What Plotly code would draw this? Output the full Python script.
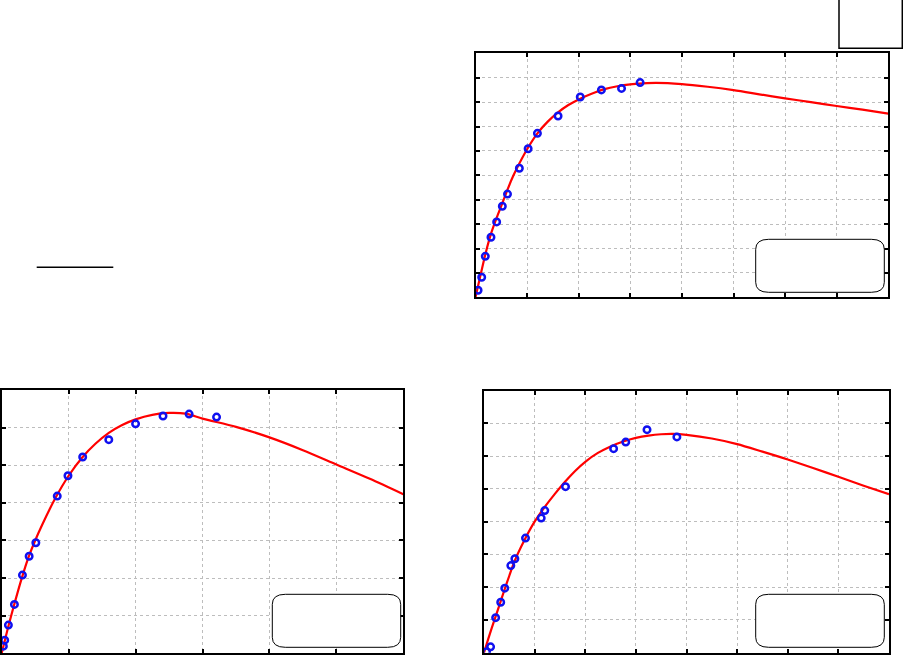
import plotly.graph_objects as go

W, H = 903, 655

# ---------------- data ----------------
# Panel A (top right)
a_pts_x = [0.05, 0.12, 0.19, 0.30, 0.41, 0.52, 0.62, 0.85, 1.02, 1.20, 1.60, 2.03, 2.44, 2.83, 3.19]
a_pts_y = [0.29, 0.82, 1.68, 2.46, 3.09, 3.73, 4.23, 5.29, 6.09, 6.72, 7.43, 8.21, 8.50, 8.56, 8.80]
a_fit_x = [0, 0.1, 0.2, 0.3, 0.4, 0.5, 0.6, 0.7, 0.8, 1.0, 1.2, 1.4, 1.6, 1.8, 2.0, 2.25, 2.5,
           2.75, 3.0, 3.25, 3.5, 4.0, 4.5, 5.0, 5.5, 6.0, 6.5, 7.0, 7.5, 8.0]
a_fit_y = [0, 0.93, 1.84, 2.6, 3.2, 3.75, 4.3, 4.83, 5.28, 6.07, 6.72, 7.2, 7.58, 7.88, 8.11, 8.34, 8.53,
           8.65, 8.73, 8.77, 8.79, 8.74, 8.63, 8.49, 8.32, 8.15, 8.0, 7.84, 7.69, 7.53]

# Panel B (bottom left)
b_pts_x = [0.025, 0.045, 0.10, 0.19, 0.31, 0.41, 0.51, 0.83, 0.99, 1.21, 1.60, 2.00, 2.41, 2.80, 3.21]
b_pts_y = [0.19, 0.35, 0.75, 1.30, 2.08, 2.58, 2.94, 4.18, 4.72, 5.22, 5.68, 6.10, 6.31, 6.36, 6.28]
b_fit_x = [0, 0.1, 0.2, 0.3, 0.4, 0.5, 0.6, 0.8, 1.0, 1.2, 1.4, 1.6, 1.8, 2.0, 2.25, 2.5,
           2.75, 3.0, 3.5, 4.0, 4.5, 5.0, 5.5, 6.0]
b_fit_y = [0, 0.72, 1.38, 2.0, 2.55, 3.0, 3.4, 4.12, 4.72, 5.2, 5.57, 5.86, 6.07, 6.22, 6.34, 6.39,
           6.37, 6.24, 6.02, 5.74, 5.4, 5.02, 4.64, 4.23]

# Panel C (bottom right)
c_pts_x = [0.05, 0.13, 0.23, 0.33, 0.41, 0.53, 0.61, 0.82, 1.13, 1.20, 1.61, 2.56, 2.80, 3.22, 3.81]
c_pts_y = [0.03, 0.18, 1.07, 1.54, 1.97, 2.66, 2.87, 3.50, 4.11, 4.34, 5.07, 6.23, 6.43, 6.81, 6.59]
c_fit_x = [0, 0.1, 0.2, 0.3, 0.4, 0.5, 0.6, 0.8, 1.0, 1.2, 1.4, 1.6, 1.8, 2.0, 2.25, 2.5,
           2.75, 3.0, 3.25, 3.5, 3.75, 4.0, 4.5, 5.0, 5.5, 6.0, 6.5, 7.0, 7.5, 8.0]
c_fit_y = [0, 0.5, 0.97, 1.43, 1.9, 2.35, 2.78, 3.44, 4.0, 4.45, 4.85, 5.22, 5.55, 5.83, 6.1, 6.3,
           6.45, 6.56, 6.63, 6.67, 6.68, 6.65, 6.54, 6.37, 6.14, 5.9, 5.64, 5.37, 5.1, 4.84]

# axis ranges (x max, y max)
a_range = (8, 10)
b_range = (6, 7)
c_range = (8, 8)

# ---------------- styling ----------------
RED = "#FF0000"
BLUE = "#1010F0"


def px_x(p):
    return p / W


def px_y(p):
    return 1 - p / H


fig = go.Figure()

panels = [
    ("x", "y", a_pts_x, a_pts_y, a_fit_x, a_fit_y),
    ("x2", "y2", b_pts_x, b_pts_y, b_fit_x, b_fit_y),
    ("x3", "y3", c_pts_x, c_pts_y, c_fit_x, c_fit_y),
]
for xa, ya, px_, py_, fx, fy in panels:
    fig.add_trace(go.Scatter(x=fx, y=fy, mode="lines",
                             line=dict(color=RED, width=2.2, shape="spline", smoothing=0.8),
                             xaxis=xa, yaxis=ya, hoverinfo="skip"))
    fig.add_trace(go.Scatter(x=px_, y=py_, mode="markers",
                             marker=dict(symbol="circle-open", size=6.5, color=BLUE,
                                         line=dict(width=2.5, color=BLUE)),
                             xaxis=xa, yaxis=ya))

# domains in pixel coordinates: (left, right, top, bottom)
doms = {
    "": (475.5, 888.3, 53.3, 297.3),
    "2": (1.7, 403.3, 390, 653.3),
    "3": (484, 889, 390.7, 652.7),
}
ranges = {"": a_range, "2": b_range, "3": c_range}

axis_common = dict(
    showline=True, linecolor="black", linewidth=2.2, mirror="ticks",
    ticks="inside", ticklen=4, tickwidth=1.5, tickcolor="black",
    showticklabels=False, showgrid=True, gridcolor="#BDBDBD", gridwidth=1, griddash="dot",
    zeroline=False, dtick=1, fixedrange=True,
)
layout_axes = {}
for k, (l, r, t, b) in doms.items():
    xmax, ymax = ranges[k]
    layout_axes["xaxis" + k] = dict(axis_common, domain=[px_x(l), px_x(r)], range=[0, xmax],
                                    anchor="y" + k)
    layout_axes["yaxis" + k] = dict(axis_common, domain=[px_y(b), px_y(t)], range=[0, ymax],
                                    anchor="x" + k)


def rounded_box(x0, y0, x1, y1, rx=13, ry=10):
    X = lambda v: f"{px_x(v):.5f}"
    Y = lambda v: f"{px_y(v):.5f}"
    return (f"M {X(x0+rx)},{Y(y0)} L {X(x1-rx)},{Y(y0)} Q {X(x1)},{Y(y0)} {X(x1)},{Y(y0+ry)} "
            f"L {X(x1)},{Y(y1-ry)} Q {X(x1)},{Y(y1)} {X(x1-rx)},{Y(y1)} "
            f"L {X(x0+rx)},{Y(y1)} Q {X(x0)},{Y(y1)} {X(x0)},{Y(y1-ry)} "
            f"L {X(x0)},{Y(y0+ry)} Q {X(x0)},{Y(y0)} {X(x0+rx)},{Y(y0)} Z")


shapes = []
for box in [(755.7, 239.3, 884.3, 292.3), (272.3, 594.3, 400.7, 647.3), (755.7, 594.3, 884.3, 647.3)]:
    shapes.append(dict(type="path", xref="paper", yref="paper", path=rounded_box(*box),
                       line=dict(color="black", width=1), fillcolor="white", layer="above"))
# top-right rectangle
shapes.append(dict(type="rect", xref="paper", yref="paper",
                   x0=px_x(839), x1=px_x(902.3), y0=px_y(48.3), y1=px_y(-3),
                   line=dict(color="black", width=1.5)))
# short line at top-left
shapes.append(dict(type="line", xref="paper", yref="paper",
                   x0=px_x(36.7), x1=px_x(113.3), y0=px_y(267.3), y1=px_y(267.3),
                   line=dict(color="black", width=1.6)))

fig.update_layout(
    width=W, height=H, margin=dict(l=0, r=0, t=0, b=0),
    paper_bgcolor="white", plot_bgcolor="white", showlegend=False,
    shapes=shapes, **layout_axes,
)

fig.write_html("out.html", config={"displayModeBar": False},
               post_script="document.body.style.margin='0';document.body.style.overflow='hidden';")
